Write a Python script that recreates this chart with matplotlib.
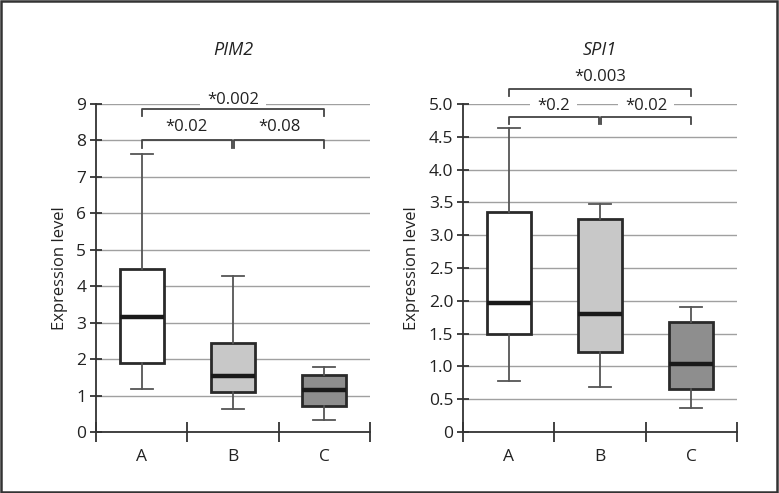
import matplotlib.pyplot as plt
from matplotlib.patches import Rectangle

plt.rcParams['font.family'] = ['Open Sans', 'DejaVu Sans']

groups = ['A', 'B', 'C']
box_colors = ['#ffffff', '#c8c8c8', '#8e8e8e']

# PIM2 box stats (low whisker, Q1, median, Q3, high whisker)
pim2_low = [1.19, 0.63, 0.33]
pim2_q1 = [1.89, 1.11, 0.71]
pim2_med = [3.15, 1.53, 1.14]
pim2_q3 = [4.48, 2.45, 1.56]
pim2_high = [7.63, 4.29, 1.77]

# SPI1 box stats
spi1_low = [0.78, 0.69, 0.37]
spi1_q1 = [1.50, 1.22, 0.66]
spi1_med = [1.97, 1.80, 1.04]
spi1_q3 = [3.36, 3.25, 1.67]
spi1_high = [4.63, 3.48, 1.91]

# significance brackets: (from, to, bar level, label, label level)
pim2_brackets = [(1, 1.985, 8.0, '*0.02', 8.38), (2.015, 3, 8.0, '*0.08', 8.38),
                 (1, 3, 8.86, '*0.002', 9.12)]
spi1_brackets = [(1, 1.985, 4.80, '*0.2', 4.97), (2.015, 3, 4.80, '*0.02', 4.97),
                 (1, 3, 5.23, '*0.003', 5.41)]


def draw_panel(ax, title, low, q1, med, q3, high, ymax, yticks, ylabels, brackets, drop, boxed):
    stats = []
    for i in range(3):
        stats.append(dict(whislo=low[i], q1=q1[i], med=med[i], q3=q3[i], whishi=high[i], fliers=[]))
    bp = ax.bxp(stats, positions=[1, 2, 3], widths=0.48, patch_artist=True, showfliers=False,
                boxprops=dict(edgecolor='#2a2a2a', linewidth=2),
                medianprops=dict(color='#1a1a1a', linewidth=3.2),
                whiskerprops=dict(color='#555555', linewidth=1.3),
                capprops=dict(color='#555555', linewidth=1.3),
                capwidths=0.24, zorder=3)
    for patch, c in zip(bp['boxes'], box_colors):
        patch.set_facecolor(c)

    ax.set_xlim(0.5, 3.5)
    ax.set_ylim(0, ymax)
    ax.set_yticks(yticks)
    ax.set_yticklabels(ylabels, fontsize=12.5, color='#222222')
    ax.yaxis.grid(True, color='#a0a0a0', linewidth=1)
    ax.set_axisbelow(True)

    ax.set_xticks([0.5, 1.5, 2.5, 3.5])
    ax.set_xticklabels([])
    ax.set_xticks([1, 2, 3], minor=True)
    ax.set_xticklabels(groups, minor=True, fontsize=12.5, color='#222222')
    ax.tick_params(axis='x', which='major', direction='inout', length=14, width=1.3, color='#333333')
    ax.tick_params(axis='x', which='minor', length=0, pad=12)
    ax.tick_params(axis='y', direction='inout', length=8, width=1.3, color='#333333', pad=3)

    for side in ['top', 'right']:
        ax.spines[side].set_visible(False)
    for side in ['left', 'bottom']:
        ax.spines[side].set_color('#333333')
        ax.spines[side].set_linewidth(1.3)

    ax.set_ylabel('Expression level', fontsize=12, color='#222222', labelpad=6)
    ax.set_title(title, fontsize=13, style='italic', color='#222222', pad=35)

    for k, (x1, x2, y, label, ty) in enumerate(brackets):
        ax.plot([x1, x1, x2, x2], [y - drop, y, y, y - drop], color='#444444', linewidth=1.3,
                clip_on=False, zorder=6)
        kw = dict(ha='center', va='center', fontsize=12, color='#222222', zorder=5)
        if boxed[k]:
            kw['bbox'] = dict(facecolor='white', edgecolor='none', pad=5)
        ax.text((x1 + x2) / 2, ty, label, **kw)


fig = plt.figure(figsize=(7.79, 4.93), dpi=100)
ax1 = fig.add_axes([96 / 779, 61 / 493, 274 / 779, 328 / 493])
ax2 = fig.add_axes([463 / 779, 61 / 493, 274 / 779, 328 / 493])

draw_panel(ax1, 'PIM2', pim2_low, pim2_q1, pim2_med, pim2_q3, pim2_high, 9,
           list(range(10)), [str(v) for v in range(10)], pim2_brackets,
           0.2, [False, False, True])
spi1_ticks = [0, 0.5, 1.0, 1.5, 2.0, 2.5, 3.0, 3.5, 4.0, 4.5, 5.0]
draw_panel(ax2, 'SPI1', spi1_low, spi1_q1, spi1_med, spi1_q3, spi1_high, 5,
           spi1_ticks, ['0'] + ['%.1f' % v for v in spi1_ticks[1:]], spi1_brackets,
           0.11, [True, True, False])

fig.patches.append(Rectangle((0.001, 0.002), 0.997, 0.996, transform=fig.transFigure,
                             fill=False, edgecolor='#333333', linewidth=1.8))

fig.savefig('out.png', dpi=100)
